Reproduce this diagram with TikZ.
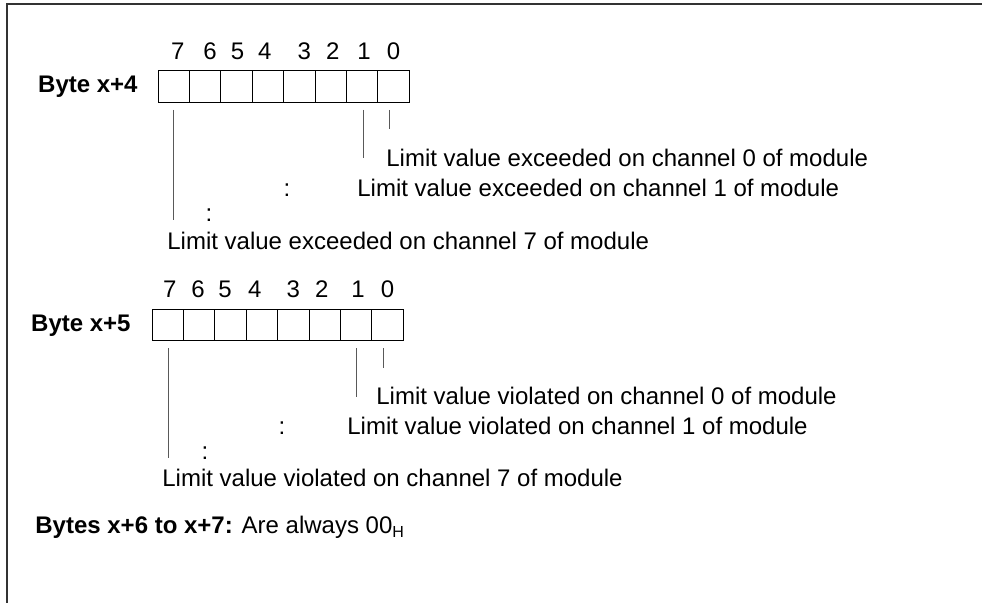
\documentclass[tikz,border=0pt]{standalone}
\usepackage{fontspec}
\setmainfont{Liberation Sans}
\usetikzlibrary{positioning,calc}
\tikzset{
  bitcell/.style={rectangle,draw=black,line width=0.5pt,inner sep=0pt,
    minimum width=15.7pt,minimum height=15.8pt},
  txt/.style={inner sep=0pt,font=\fontsize{12pt}{14pt}\selectfont,anchor=base west},
  lead/.style={draw=black!65,line width=0.5pt},
}

\begin{document}
\begin{tikzpicture}[x=0.5pt,y=-0.5pt,
  digit/.style={txt,anchor=base},
  bytelbl/.style={txt,anchor=base east,font=\fontsize{12pt}{14pt}\selectfont\bfseries},
  frameline/.style={draw=black!80,line width=0.9pt},
]
  \useasboundingbox (0,0) rectangle (982,603);
  \draw[frameline] (7,603) -- (7,4) -- (982,4);

  % byte x+4
  \node[bytelbl] (byte4) at (138,93) {Byte x+4};
  \foreach \b in {0,...,7}
    \node[bitcell] (b4-\b) at ({173.7+(7-\b)*31.4},86.7) {};
  \foreach \b/\dx in {7/4,6/5,5/1,4/-3,3/5,2/2,1/2,0/0}
    \node[digit] (d4-\b) at ([xshift=\dx*0.5pt,yshift=5.5pt]b4-\b.north) {\b};

  \node[txt] (t4-0) at (386,167) {Limit value exceeded on channel 0 of module};
  \node[txt] (t4-1) at (357,197) {Limit value exceeded on channel 1 of module};
  \node[txt] (t4-7) at (167,250) {Limit value exceeded on channel 7 of module};
  \node[digit] (c4-a) at (287,197) {:};
  \node[digit] (c4-b) at (209,222) {:};
  \foreach \b/\dx/\len in {7/0/110,1/0.5/48,0/-2.25/19}
    \draw[lead] ([xshift=\dx pt,yshift=-3.5pt]b4-\b.south) -- ++(0,\len);

  % byte x+5
  \node[bytelbl] (byte5) at (131,332) {Byte x+5};
  \foreach \b in {0,...,7}
    \node[bitcell] (b5-\b) at ({167.7+(7-\b)*31.4},325) {};
  \foreach \b/\dx in {7/2,6/-1,5/-5.5,4/-7,3/0,2/-3,1/2,0/0}
    \node[digit] (d5-\b) at ([xshift=\dx*0.5pt,yshift=5.5pt]b5-\b.north) {\b};

  \node[txt] (t5-0) at (376,405) {Limit value violated on channel 0 of module};
  \node[txt] (t5-1) at (347,435) {Limit value violated on channel 1 of module};
  \node[txt] (t5-7) at (162,487) {Limit value violated on channel 7 of module};
  \node[digit] (c5-a) at (282,435) {:};
  \node[digit] (c5-b) at (205,460) {:};
  \foreach \b/\dx/\len in {7/0.5/110,1/0/49,0/-2.25/20}
    \draw[lead] ([xshift=\dx pt,yshift=-3.5pt]b5-\b.south) -- ++(0,\len);

  % bytes x+6, x+7
  \node[txt] (rest) at (35,534) {\textbf{Bytes x+6 to x+7:} Are always 00\textsubscript{H}};
\end{tikzpicture}
\end{document}
